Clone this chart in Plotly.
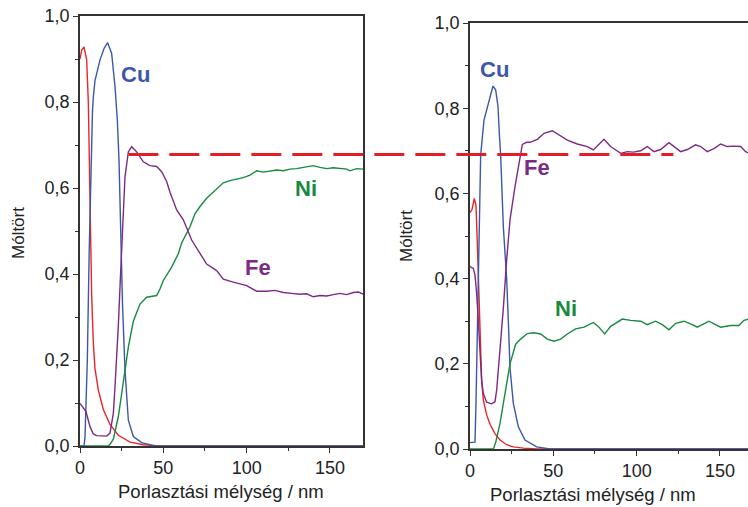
import plotly.graph_objects as go

# ---------------- data ----------------
# Left panel
left_red_x = [0, 1, 2.4, 4, 5, 6, 7, 8, 9, 11, 14, 18, 23, 30, 38, 48, 170]
left_red_y = [0.90, 0.921, 0.928, 0.898, 0.80, 0.55, 0.35, 0.24, 0.18, 0.13, 0.085, 0.05, 0.025, 0.009, 0.003, 0, 0]

left_cu_x = [0, 2.4, 3, 3.6, 4.4, 5.5, 6.5, 7.5, 8, 9, 12, 14.5, 16.6, 19, 21, 22.4, 23.4, 24.4, 25.5, 27, 29, 32, 37, 45, 170]
left_cu_y = [0, 0, 0.02, 0.1, 0.2, 0.45, 0.65, 0.78, 0.812, 0.85, 0.898, 0.925, 0.938, 0.913, 0.836, 0.758, 0.665, 0.5, 0.33, 0.177, 0.06, 0.022, 0.008, 0, 0]

left_ni_x = [0, 17, 18, 20, 23, 26, 29, 32, 36, 40, 43, 46, 48, 50, 55, 59, 61, 66, 69, 72, 76, 81, 86, 90, 94, 98, 102, 106,
             110, 114, 118, 122, 126, 130, 134, 138, 140, 144, 148, 152, 156, 160, 162, 166, 170]
left_ni_y = [0, 0, 0.004, 0.016, 0.068, 0.152, 0.23, 0.29, 0.33, 0.346, 0.348, 0.35, 0.365, 0.385, 0.416, 0.447, 0.472, 0.51,
             0.54, 0.557, 0.576, 0.595, 0.612, 0.617, 0.62, 0.624, 0.63, 0.64, 0.637, 0.639, 0.642, 0.64, 0.644, 0.645, 0.648,
             0.65, 0.652, 0.648, 0.645, 0.647, 0.645, 0.644, 0.64, 0.645, 0.644]

left_fe_x = [0, 2, 3.6, 6, 8, 10, 16, 18, 20, 21, 22, 23, 24, 25, 26, 27, 29, 31, 34, 38, 42, 46, 49, 52, 54, 58, 62, 67, 72,
             76, 82, 86, 92, 100, 106, 112, 117, 122, 127, 132, 136, 140, 144, 148, 152, 156, 160, 164, 167, 170]
left_fe_y = [0.099, 0.088, 0.08, 0.045, 0.028, 0.024, 0.023, 0.03, 0.076, 0.138, 0.2, 0.28, 0.37, 0.47, 0.56, 0.626, 0.684,
             0.696, 0.684, 0.661, 0.652, 0.65, 0.638, 0.615, 0.59, 0.549, 0.526, 0.479, 0.448, 0.423, 0.408, 0.388, 0.381,
             0.373, 0.36, 0.36, 0.362, 0.357, 0.355, 0.353, 0.354, 0.347, 0.35, 0.349, 0.352, 0.355, 0.352, 0.357, 0.358, 0.353]

# Right panel
right_red_x = [0, 1.2, 2.6, 3.6, 4.4, 5.4, 6.2, 7, 8, 10, 12, 15, 18, 22, 26, 32, 40, 170]
right_red_y = [0.555, 0.562, 0.588, 0.572, 0.483, 0.365, 0.23, 0.16, 0.115, 0.08, 0.058, 0.036, 0.021, 0.01, 0.005, 0.002, 0, 0]

right_cu_x = [0, 3, 3.6, 4, 4.4, 5.6, 6.4, 8.4, 11.4, 13.8, 15.4, 16.8, 17.6, 18.4, 20, 22, 23, 24, 26, 29, 33, 40, 48, 170]
right_cu_y = [0.015, 0.016, 0.108, 0.185, 0.326, 0.561, 0.69, 0.772, 0.819, 0.852, 0.843, 0.804, 0.74, 0.69, 0.522, 0.40,
              0.30, 0.19, 0.107, 0.052, 0.021, 0.005, 0, 0]

right_ni_x = [0, 14, 15.4, 18, 21, 24, 27.4, 30.4, 34.4, 38.4, 42.4, 46.4, 50.4, 54.4, 58.4, 63.4, 68.4, 74, 77.4, 80.8, 84.4,
              91.4, 96.4, 102.4, 106.4, 111.4, 115.4, 119.4, 123.4, 128.4, 133.4, 136.4, 139.4, 143.4, 146.4, 150.4, 156.4,
              161.4, 164.4, 170]
right_ni_y = [0, 0, 0.015, 0.06, 0.13, 0.2, 0.246, 0.258, 0.271, 0.273, 0.27, 0.258, 0.253, 0.258, 0.27, 0.282, 0.286, 0.297,
              0.286, 0.27, 0.288, 0.305, 0.302, 0.30, 0.292, 0.30, 0.292, 0.28, 0.295, 0.30, 0.292, 0.286, 0.292, 0.30, 0.294,
              0.286, 0.29, 0.29, 0.302, 0.308]

right_fe_x = [0, 2, 3, 4, 5, 6, 7, 8, 10, 13, 15, 16, 17, 18.4, 20, 22, 24, 27, 29, 31.4, 34, 36, 40.4, 44.4, 49.4, 53.4,
              58.4, 64.4, 70.4, 74, 77.4, 80.4, 84.4, 90.4, 94.4, 98, 102.4, 106.4, 110.4, 114.4, 119.4, 122.4, 126.4,
              130.4, 135.4, 138.4, 142.4, 146.4, 150.4, 154.4, 158.4, 162.4, 165.4, 170]
right_fe_y = [0.428, 0.424, 0.408, 0.365, 0.30, 0.21, 0.16, 0.13, 0.11, 0.106, 0.111, 0.138, 0.185, 0.262, 0.33, 0.444, 0.538,
              0.616, 0.663, 0.715, 0.72, 0.72, 0.727, 0.741, 0.747, 0.737, 0.725, 0.716, 0.71, 0.702, 0.716, 0.727, 0.71,
              0.694, 0.698, 0.697, 0.70, 0.71, 0.698, 0.703, 0.719, 0.71, 0.698, 0.703, 0.714, 0.71, 0.698, 0.705, 0.716,
              0.71, 0.711, 0.71, 0.698, 0.69]

# dashed reference level: starts in left panel, ends in right panel
dash_level_left = 0.678
dash_x_start_left = 29
dash_x_end_right = 122

y_tick_vals = [0, 0.2, 0.4, 0.6, 0.8, 1.0]
x_tick_vals = [0, 50, 100, 150]

x_title = "Porlasztási mélység / nm"
y_title = "Móltört"

# ---------------- styling / layout ----------------
W, H = 748, 507
L_X0, L_X1, L_TOP, L_BOT = 80, 363.3, 16, 446
R_X0, R_X1, R_TOP, R_BOT = 470, 748, 23, 449
L_XMAX = 170
PX_PER_UNIT = (L_X1 - L_X0) / L_XMAX
R_XMAX = (R_X1 - R_X0) / PX_PER_UNIT

RED, BLUE, GREEN, PURPLE = "#e8262a", "#3c57a7", "#178a40", "#7b2a85"
AXC = "#333333"
FONT = "Liberation Sans, Arial, sans-serif"

fig = go.Figure()
lw = 1.4
for xs, ys, c, ax in [
    (left_red_x, left_red_y, RED, "1"), (left_cu_x, left_cu_y, BLUE, "1"),
    (left_ni_x, left_ni_y, GREEN, "1"), (left_fe_x, left_fe_y, PURPLE, "1"),
    (right_red_x, right_red_y, RED, "2"), (right_cu_x, right_cu_y, BLUE, "2"),
    (right_ni_x, right_ni_y, GREEN, "2"), (right_fe_x, right_fe_y, PURPLE, "2"),
]:
    fig.add_trace(go.Scatter(x=xs, y=ys, mode="lines", line=dict(color=c, width=lw),
                             xaxis="x" if ax == "1" else "x2", yaxis="y" if ax == "1" else "y2",
                             showlegend=False, hoverinfo="skip"))


def px2paper_x(px):
    return px / W


def px2paper_y(py):
    return (H - py) / H


common_x = dict(tickvals=x_tick_vals, ticks="outside", ticklen=5, tickwidth=1.2, tickcolor=AXC,
                showline=True, linecolor=AXC, linewidth=1.5, showgrid=False, zeroline=False,
                tickfont=dict(family=FONT, size=18, color="#222"), automargin=False,
                minor=dict(dtick=25, tick0=0, ticks="outside", ticklen=3, tickcolor=AXC, tickwidth=1),
                layer="below traces", fixedrange=True)
common_y = dict(tickvals=y_tick_vals, tickformat=".1f", ticks="outside", ticklen=5, tickwidth=1.2, tickcolor=AXC,
                showline=True, linecolor=AXC, linewidth=1.5, showgrid=False, zeroline=False,
                tickfont=dict(family=FONT, size=18, color="#222"), automargin=False,
                minor=dict(dtick=0.1, tick0=0, ticks="outside", ticklen=3, tickcolor=AXC, tickwidth=1),
                range=[0, 1.0], layer="below traces", fixedrange=True)

fig.update_layout(
    width=W, height=H, autosize=False,
    margin=dict(l=0, r=0, t=0, b=0, pad=0, autoexpand=False),
    paper_bgcolor="white", plot_bgcolor="white",
    separators=", ",
    xaxis=dict(common_x, domain=[px2paper_x(L_X0), px2paper_x(L_X1)], range=[0, L_XMAX], anchor="y", mirror=True),
    yaxis=dict(common_y, domain=[px2paper_y(L_BOT), px2paper_y(L_TOP)], anchor="x", mirror=True),
    xaxis2=dict(common_x, domain=[px2paper_x(R_X0), 1.0], range=[0, R_XMAX], anchor="y2", mirror=True),
    yaxis2=dict(common_y, domain=[px2paper_y(R_BOT), px2paper_y(R_TOP)], anchor="x2", mirror=False),
)

# dashed line spanning both panels
dash_py = L_BOT - dash_level_left * (L_BOT - L_TOP)
dash_px0 = L_X0 + dash_x_start_left * PX_PER_UNIT
dash_px1 = R_X0 + dash_x_end_right * PX_PER_UNIT
fig.add_shape(type="line", xref="paper", yref="paper",
              x0=px2paper_x(dash_px0), x1=px2paper_x(dash_px1),
              y0=px2paper_y(dash_py), y1=px2paper_y(dash_py),
              line=dict(color="#e41e26", width=3, dash="30px,11px"), layer="above")

# element labels
labels = [
    ("Cu", 33.6, 0.865, BLUE, "x", "y"), ("Ni", 135.6, 0.60, GREEN, "x", "y"), ("Fe", 106.8, 0.416, PURPLE, "x", "y"),
    ("Cu", 15.0, 0.89, BLUE, "x2", "y2"), ("Fe", 40.2, 0.66, PURPLE, "x2", "y2"), ("Ni", 57.6, 0.329, GREEN, "x2", "y2"),
]
for t, x, y, c, xr, yr in labels:
    fig.add_annotation(text="<b>%s</b>" % t, x=x, y=y, xref=xr, yref=yr, showarrow=False,
                       font=dict(family=FONT, size=22, color=c), xanchor="center", yanchor="middle")

# axis titles
for cx, cy in [(221, 491), (593, 494)]:
    fig.add_annotation(text=x_title, x=px2paper_x(cx), y=px2paper_y(cy), xref="paper", yref="paper",
                       showarrow=False, font=dict(family=FONT, size=18.5, color="#222"),
                       xanchor="center", yanchor="middle")
for cx, cy in [(18, 233), (406, 236)]:
    fig.add_annotation(text=y_title, x=px2paper_x(cx), y=px2paper_y(cy), xref="paper", yref="paper",
                       showarrow=False, textangle=-90, font=dict(family=FONT, size=17, color="#222"),
                       xanchor="center", yanchor="middle")

fig.write_html("out.html")
